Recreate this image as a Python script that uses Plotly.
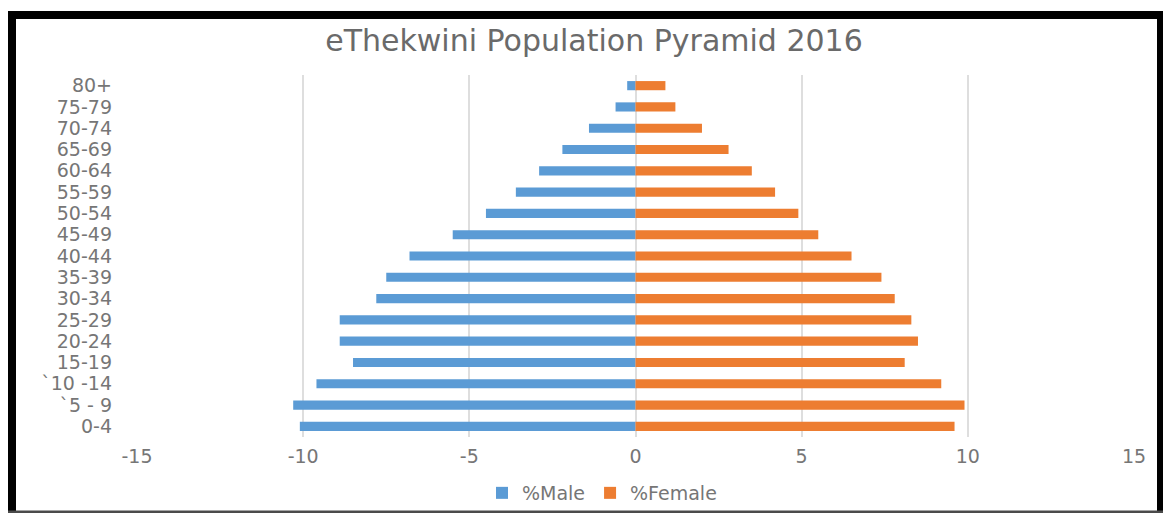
import plotly.graph_objects as go

# Age bands, youngest first (plotted bottom to top)
age_groups = ["0-4", "`5 - 9", "`10 -14", "15-19", "20-24", "25-29", "30-34",
              "35-39", "40-44", "45-49", "50-54", "55-59", "60-64", "65-69",
              "70-74", "75-79", "80+"]

# Share of total population (%)
pct_male = [10.1, 10.3, 9.6, 8.5, 8.9, 8.9, 7.8, 7.5, 6.8, 5.5, 4.5, 3.6,
            2.9, 2.2, 1.4, 0.6, 0.25]
pct_female = [9.6, 9.9, 9.2, 8.1, 8.5, 8.3, 7.8, 7.4, 6.5, 5.5, 4.9, 4.2,
              3.5, 2.8, 2.0, 1.2, 0.9]

x_ticks = [-15, -10, -5, 0, 5, 10, 15]
x_tick_text = [str(v) for v in x_ticks]

W, H = 1163, 513
L, R, T, B = 137, 29, 75, 76
PW, PH = W - L - R, H - T - B

BLUE = "#5B9BD5"
ORANGE = "#ED7D31"
GRID = "#dedede"
TXT = "#767676"
FONT = "DejaVu Sans"


def px_x(px):
    return (px - L) / PW


def px_y(py):
    return 1 - (py - T) / PH


fig = go.Figure()
fig.add_trace(go.Bar(
    y=age_groups, x=[-v for v in pct_male], orientation="h",
    name="%Male", marker=dict(color=BLUE, line=dict(width=0)),
))
fig.add_trace(go.Bar(
    y=age_groups, x=pct_female, orientation="h",
    name="%Female", marker=dict(color=ORANGE, line=dict(width=0)),
))

# black frame around the chart
frame = [
    (8, 11, W, 19, "black"),
    (8, 11, 16, H, "black"),
    (1157, 11, W, H, "black"),
    (8, 510.5, W, H, "#4a4a4a"),
]
shapes = [
    dict(type="rect", xref="paper", yref="paper",
         x0=px_x(x0), x1=px_x(x1), y0=px_y(y1), y1=px_y(y0),
         fillcolor=c, line=dict(width=0), layer="above")
    for x0, y0, x1, y1, c in frame
]

fig.update_layout(
    width=W, height=H,
    margin=dict(l=L, r=R, t=T, b=B, pad=0, autoexpand=False),
    paper_bgcolor="white", plot_bgcolor="white",
    barmode="relative", bargap=0.57,
    title=dict(text="eThekwini Population Pyramid 2016",
               x=594 / W, xanchor="center", xref="container",
               y=1 - 40 / H, yanchor="middle", yref="container",
               font=dict(family=FONT, size=30, color="#6a6a6a")),
    xaxis=dict(range=[-15, 15], tickvals=x_ticks, ticktext=x_tick_text,
               showgrid=True, gridcolor=GRID, gridwidth=1.5,
               zeroline=True, zerolinecolor=GRID, zerolinewidth=1.5,
               showline=False, ticks="", ticklabelstandoff=6,
               tickfont=dict(family=FONT, size=19, color=TXT)),
    yaxis=dict(type="category", categoryorder="array", categoryarray=age_groups,
               tickmode="array", tickvals=age_groups, ticktext=age_groups,
               showgrid=False, zeroline=False, showline=False, ticks="",
               ticklabelstandoff=24,
               tickfont=dict(family=FONT, size=19, color=TXT)),
    legend=dict(orientation="h", x=px_x(602), xanchor="center",
                y=px_y(493), yanchor="middle", bgcolor="rgba(0,0,0,0)",
                font=dict(family=FONT, size=19, color=TXT),
                itemwidth=30, traceorder="normal"),
    shapes=shapes,
    showlegend=True,
)

fig.write_html("out.html")
